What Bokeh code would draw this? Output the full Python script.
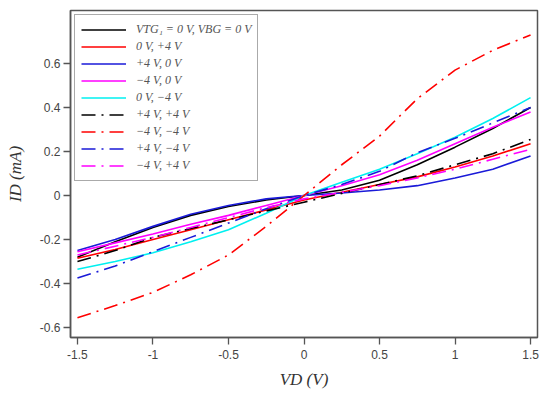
from bokeh.plotting import figure
from bokeh.models import FixedTicker, Range1d
from bokeh.embed import file_html
from bokeh.resources import INLINE

# ---------------- data ----------------
VD = [-1.5, -1.25, -1.0, -0.75, -0.5, -0.25, 0.0, 0.25, 0.5, 0.75, 1.0, 1.25, 1.5]

black_solid   = [-0.28, -0.21, -0.145, -0.09, -0.05, -0.02, 0.0, 0.025, 0.07, 0.14, 0.22, 0.305, 0.40]
red_solid     = [-0.285, -0.245, -0.20, -0.155, -0.11, -0.065, -0.02, 0.015, 0.05, 0.085, 0.13, 0.18, 0.235]
blue_solid    = [-0.25, -0.20, -0.14, -0.085, -0.045, -0.015, 0.0, 0.012, 0.025, 0.045, 0.08, 0.12, 0.18]
magenta_solid = [-0.255, -0.215, -0.175, -0.13, -0.09, -0.045, 0.0, 0.045, 0.095, 0.16, 0.235, 0.31, 0.38]
cyan_solid    = [-0.335, -0.30, -0.26, -0.21, -0.155, -0.08, 0.0, 0.06, 0.12, 0.19, 0.265, 0.35, 0.445]
black_dd      = [-0.30, -0.25, -0.19, -0.15, -0.11, -0.07, -0.03, 0.01, 0.05, 0.09, 0.14, 0.19, 0.255]
red_dd        = [-0.555, -0.50, -0.44, -0.36, -0.27, -0.14, 0.0, 0.14, 0.27, 0.44, 0.57, 0.66, 0.73]
blue_dd       = [-0.375, -0.32, -0.255, -0.19, -0.125, -0.06, 0.0, 0.05, 0.11, 0.195, 0.26, 0.33, 0.40]
magenta_dd    = [-0.27, -0.23, -0.19, -0.145, -0.10, -0.055, -0.015, 0.015, 0.045, 0.08, 0.12, 0.165, 0.21]

series = [
    ("VTG\u2081 = 0 V, VBG = 0 V", black_solid, "#000000", "solid"),
    ("0 V, +4 V", red_solid, "#ff0000", "solid"),
    ("+4 V, 0 V", blue_solid, "#1a1ad8", "solid"),
    ("\u22124 V, 0 V", magenta_solid, "#ff00ff", "solid"),
    ("0 V, \u22124 V", cyan_solid, "#00f0f0", "solid"),
    ("+4 V, +4 V", black_dd, "#000000", "dd"),
    ("\u22124 V, \u22124 V", red_dd, "#ff0000", "dd"),
    ("+4 V, \u22124 V", blue_dd, "#1a1ad8", "dd"),
    ("\u22124 V, +4 V", magenta_dd, "#ff00ff", "dd"),
]

x_ticks = [-1.5, -1.0, -0.5, 0.0, 0.5, 1.0, 1.5]
x_tick_labels = ["-1.5", "-1", "-0.5", "0", "0.5", "1", "1.5"]
y_ticks = [-0.6, -0.4, -0.2, 0.0, 0.2, 0.4, 0.6]
y_tick_labels = ["-0.6", "-0.4", "-0.2", "0", "0.2", "0.4", "0.6"]

# ---------------- figure ----------------
p = figure(width=545, height=392, output_backend="svg", toolbar_location=None,
           x_range=Range1d(-1.546, 1.546), y_range=Range1d(-0.645, 0.841),
           min_border_left=70, min_border_right=8, min_border_top=10, min_border_bottom=55,
           x_axis_label="VD (V)", y_axis_label="ID (mA)")
p.background_fill_color = "white"
p.border_fill_color = "white"
p.outline_line_color = "#555555"
p.outline_line_width = 1.5
p.xgrid.visible = False
p.ygrid.visible = False

for lab, ys, col, sty in series:
    dash = "solid" if sty == "solid" else "14 6 2 6"
    p.line(VD, ys, line_color=col, line_width=1.6, line_dash=dash, legend_label=lab)

for ax, ticks, labs in ((p.xaxis[0], x_ticks, x_tick_labels), (p.yaxis[0], y_ticks, y_tick_labels)):
    ax.ticker = FixedTicker(ticks=ticks)
    ax.major_label_overrides = {t: l for t, l in zip(ticks, labs)}
    ax.minor_tick_line_color = None
    ax.major_tick_in = 0
    ax.major_tick_out = 7
    ax.major_tick_line_color = "#555555"
    ax.major_tick_line_width = 1.3
    ax.axis_line_color = "#555555"
    ax.axis_line_width = 1.5
    ax.major_label_text_font = "Liberation Sans"
    ax.major_label_text_font_size = "12px"
    ax.major_label_text_color = "#444444"
    ax.axis_label_text_font = "Liberation Serif"
    ax.axis_label_text_font_style = "italic"
    ax.axis_label_text_font_size = "17px"
    ax.axis_label_text_color = "#333333"
p.xaxis.major_label_standoff = 5
p.yaxis.major_label_standoff = 3
p.xaxis.axis_label_standoff = 8
p.yaxis.axis_label_standoff = 12

lg = p.legend[0]
lg.location = "top_left"
lg.margin = 4
lg.padding = 6
lg.spacing = 0
lg.glyph_width = 45
lg.glyph_height = 17
lg.label_height = 17
lg.label_standoff = 10
lg.label_text_font = "Liberation Serif"
lg.label_text_font_style = "italic"
lg.label_text_font_size = "12px"
lg.label_text_color = "#555555"
lg.border_line_color = "#555555"
lg.border_line_width = 1.5
lg.background_fill_alpha = 1.0

open("out.html", "w").write(file_html(p, INLINE))
